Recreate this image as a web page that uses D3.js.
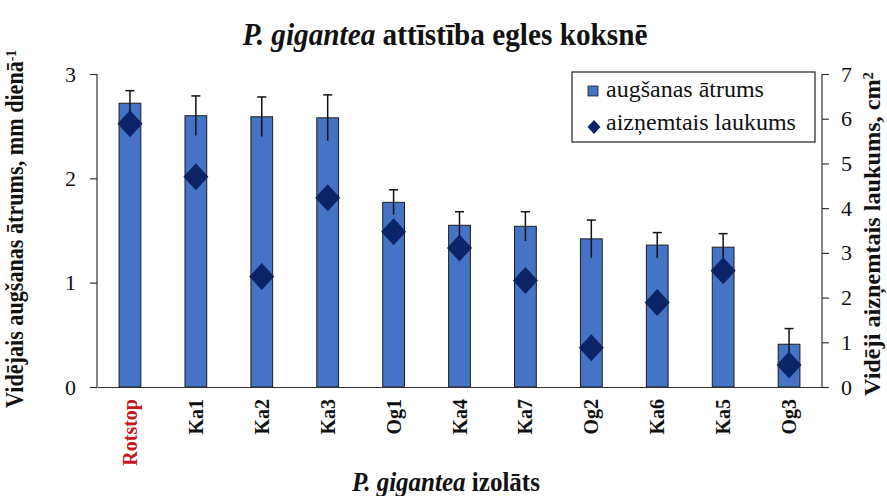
<!DOCTYPE html>
<html>
<head>
<meta charset="utf-8">
<script src="https://cdn.jsdelivr.net/npm/d3@7"></script>
</head>
<body style="margin:0; background:#fff">
<svg id="chart"></svg>
<script>
const categories = ["Rotstop", "Ka1", "Ka2", "Ka3", "Og1", "Ka4", "Ka7", "Og2", "Ka6", "Ka5", "Og3"];
const growthRate = [2.72, 2.60, 2.59, 2.58, 1.77, 1.55, 1.54, 1.42, 1.36, 1.34, 0.41];
const growthErr = [0.12, 0.19, 0.19, 0.22, 0.12, 0.13, 0.14, 0.18, 0.12, 0.13, 0.15];
const areaCovered = [5.89, 4.70, 2.47, 4.23, 3.47, 3.11, 2.38, 0.88, 1.89, 2.60, 0.49];
const leftTicks = [0, 1, 2, 3];
const rightTicks = [0, 1, 2, 3, 4, 5, 6, 7];

const width = 887;
const height = 496;
const margin = {top: 74, right: 65, bottom: 109, left: 97};

const fontName = '"Liberation Serif"';
const barColor = "#4573c6";
const diamondColor = "#0b2468";

const svg = d3.select("#chart")
    .attr("width", width)
    .attr("height", height)
    .style("font-family", fontName);

const x = d3.scaleBand()
    .domain(categories)
    .range([margin.left, width - margin.right])
    .paddingInner(0.67)
    .paddingOuter(0.335);

const yLeft = d3.scaleLinear()
    .domain([0, 3])
    .range([height - margin.bottom, margin.top]);

const yRight = d3.scaleLinear()
    .domain([0, 7])
    .range([height - margin.bottom, margin.top]);

const rows = categories.map((c, i) => ({name: c, rate: growthRate[i], err: growthErr[i], area: areaCovered[i]}));

// squeeze a text horizontally (in its own frame) so it is `len` px long
function fitText(sel, len) {
    const w = sel.node().getComputedTextLength();
    return len / w;
}

// bars
svg.append("g")
    .selectAll("rect")
    .data(rows)
    .enter().append("rect")
    .attr("x", d => x(d.name))
    .attr("y", d => yLeft(d.rate))
    .attr("width", x.bandwidth())
    .attr("height", d => yLeft(0) - yLeft(d.rate))
    .attr("fill", barColor)
    .attr("stroke", "#1c1c1c")
    .attr("stroke-width", 1);

// error bars
const errGroup = svg.append("g")
    .attr("stroke", "#111")
    .attr("stroke-width", 1.5);

rows.forEach(d => {
    const cx = x(d.name) + x.bandwidth() / 2;
    errGroup.append("line")
        .attr("x1", cx).attr("x2", cx)
        .attr("y1", yLeft(d.rate + d.err))
        .attr("y2", yLeft(d.rate - d.err));
    errGroup.append("line")
        .attr("x1", cx - 4.5).attr("x2", cx + 4.5)
        .attr("y1", yLeft(d.rate + d.err))
        .attr("y2", yLeft(d.rate + d.err));
});

// diamonds on right axis
function diamond(w, h) {
    return `M0,${-h/2}L${w/2},0L0,${h/2}L${-w/2},0Z`;
}

svg.append("g")
    .selectAll("path")
    .data(rows)
    .enter().append("path")
    .attr("d", diamond(25, 27))
    .attr("transform", d => `translate(${x(d.name) + x.bandwidth() / 2},${yRight(d.area)})`)
    .attr("fill", diamondColor);

// axes
const axisLeft = svg.append("g")
    .attr("transform", `translate(${margin.left},0)`)
    .call(d3.axisLeft(yLeft).tickValues(leftTicks).tickSize(7).tickPadding(14).tickFormat(d3.format("d")));

const axisRight = svg.append("g")
    .attr("transform", `translate(${width - margin.right},0)`)
    .call(d3.axisRight(yRight).tickValues(rightTicks).tickSize(7).tickPadding(12).tickFormat(d3.format("d")));

const axisBottom = svg.append("g")
    .attr("transform", `translate(0,${height - margin.bottom})`)
    .call(d3.axisBottom(x).tickSize(0).tickPadding(0));

[axisLeft, axisRight, axisBottom].forEach(a => {
    a.attr("font-family", fontName).attr("font-size", null);
    a.select(".domain").attr("stroke", "#333").attr("stroke-width", 1.2);
    a.selectAll(".tick line").attr("stroke", "#333").attr("stroke-width", 1.2);
    a.selectAll("text").attr("fill", "#111").style("font-family", fontName);
});
axisLeft.select(".domain").attr("d", `M-0,${yLeft(3)}V${yLeft(0)}`);
axisRight.select(".domain").attr("d", `M0,${yRight(7)}V${yRight(0)}`);
axisLeft.selectAll(".tick text").style("font-size", "22px");
axisRight.selectAll(".tick text").style("font-size", "22px");

axisBottom.selectAll(".tick text")
    .attr("transform", "rotate(-90)")
    .attr("text-anchor", "end")
    .attr("x", -12)
    .attr("y", 0)
    .attr("dy", "0.35em")
    .style("font-size", "20px")
    .style("font-weight", "bold")
    .attr("fill", d => d === "Rotstop" ? "#c8161d" : "#111");

// title
const title = svg.append("text")
    .attr("text-anchor", "middle")
    .style("font-family", fontName)
    .style("font-size", "32px")
    .style("font-weight", "bold")
    .attr("fill", "#111");
title.append("tspan").style("font-style", "italic").text("P. gigantea");
title.append("tspan").text(" attīstība egles koksnē");
title.attr("transform", `translate(445,45) scale(${fitText(title, 405)},1)`);

// x axis title
const xTitle = svg.append("text")
    .attr("text-anchor", "middle")
    .style("font-family", fontName)
    .style("font-size", "27px")
    .style("font-weight", "bold")
    .attr("fill", "#111");
xTitle.append("tspan").style("font-style", "italic").text("P. gigantea");
xTitle.append("tspan").text(" izolāts");
xTitle.attr("transform", `translate(446,491) scale(${fitText(xTitle, 188)},1)`);

// left axis title
const yTitle = svg.append("text")
    .attr("text-anchor", "middle")
    .style("font-family", fontName)
    .style("font-size", "25px")
    .style("font-weight", "bold")
    .attr("fill", "#111");
yTitle.append("tspan").text("Vidējais augšanas ātrums, mm dienā");
yTitle.append("tspan").attr("dy", "-0.5em").style("font-size", "15px").text("-1");
yTitle.attr("transform", `translate(23,229) rotate(-90) scale(${fitText(yTitle, 358)},1)`);

// right axis title
const y2Title = svg.append("text")
    .attr("text-anchor", "middle")
    .style("font-family", fontName)
    .style("font-size", "23px")
    .style("font-weight", "bold")
    .attr("fill", "#111");
y2Title.append("tspan").text("Vidēji aizņemtais laukums, cm");
y2Title.append("tspan").attr("dy", "-0.5em").style("font-size", "14px").text("2");
y2Title.attr("transform", `translate(880,234) rotate(-90) scale(${fitText(y2Title, 324)},1)`);

// legend
const legend = svg.append("g").attr("transform", "translate(572,72)");
legend.append("rect")
    .attr("width", 243).attr("height", 70)
    .attr("fill", "#fff")
    .attr("stroke", "#222")
    .attr("stroke-width", 1.2);
legend.append("rect")
    .attr("x", 16).attr("y", 14)
    .attr("width", 10).attr("height", 10)
    .attr("fill", barColor)
    .attr("stroke", "#1c1c1c")
    .attr("stroke-width", 0.8);
legend.append("text")
    .attr("x", 34).attr("y", 25)
    .style("font-family", fontName)
    .style("font-size", "24px")
    .attr("fill", "#111")
    .text("augšanas ātrums");
legend.append("path")
    .attr("d", diamond(13, 14))
    .attr("transform", "translate(22,55)")
    .attr("fill", diamondColor);
legend.append("text")
    .attr("x", 34).attr("y", 58)
    .style("font-family", fontName)
    .style("font-size", "24px")
    .attr("fill", "#111")
    .text("aizņemtais laukums");
</script>
</body>
</html>
